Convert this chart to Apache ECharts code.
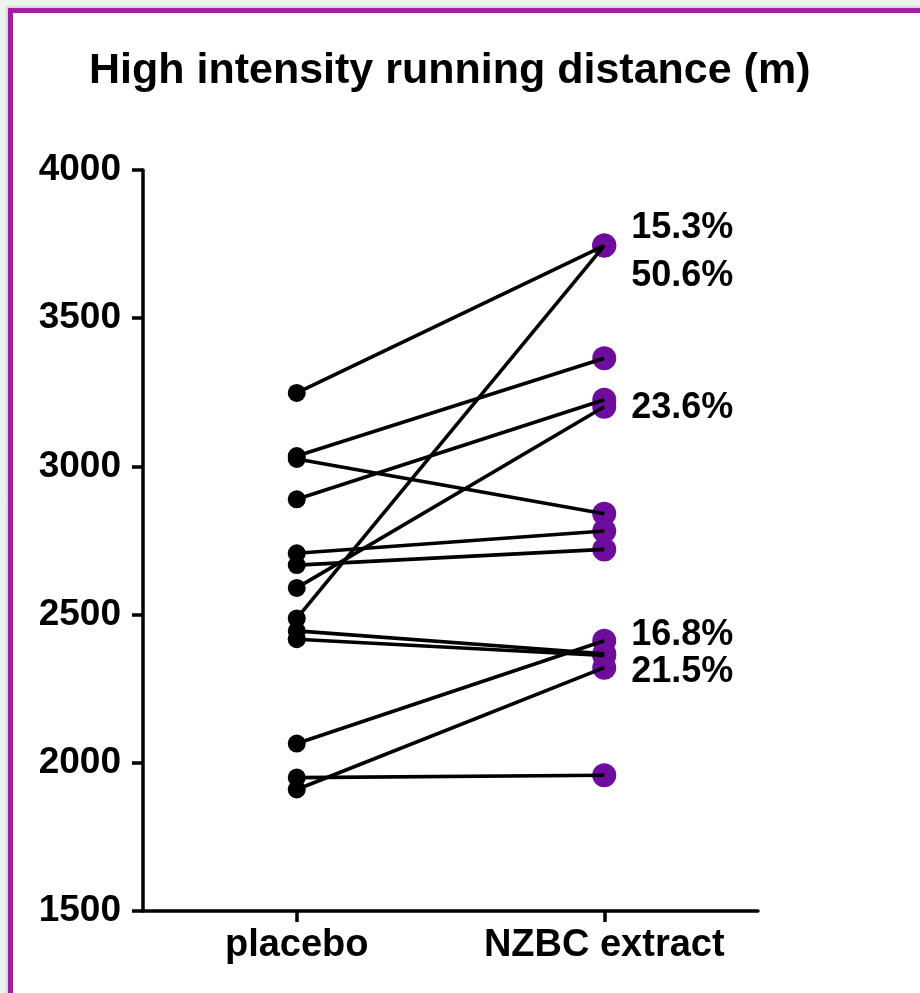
<!DOCTYPE html>
<html>
<head>
<meta charset="utf-8">
<script src="https://cdn.jsdelivr.net/npm/echarts@6/dist/echarts.min.js"></script>
<style>
  html, body { margin: 0; padding: 0; background: #eaf3ec; }
  #chart { width: 920px; height: 993px; }
</style>
</head>
<body>
<div id="chart"></div>
<script>
// Groups on the x axis
const categories = ['placebo', 'NZBC extract'];

// High intensity running distance (m) per player, paired by index
const placebo = [3248, 3035, 3025, 2889, 2707, 2667, 2590, 2487, 2445, 2417, 2065, 1950, 1910];
const nzbc    = [3745, 3365, 2840, 3225, 2782, 2720, 3201, 3745, 2368, 2362, 2412, 1958, 2321];

// Players whose percentage change is annotated
const annotated = [0, 7, 6, 10, 12];

// Y axis range and step
const yMin = 1500, yMax = 4000, yStep = 500;

const FONT = '"Liberation Sans", Arial, sans-serif';

const pct = i => ((nzbc[i] / placebo[i] - 1) * 100).toFixed(1) + '%';

// annotation label placement next to each annotated point
const labelOffsets = { 0: [27, -18], 7: [27, 30], 6: [27, 1], 10: [27, -6], 12: [27, 4] };

const pairSeries = placebo.map((p, i) => ({
  type: 'line',
  data: [p, nzbc[i]],
  symbol: 'none',
  lineStyle: { color: '#000', width: 3.6 },
  z: 3,
  silent: true,
  animation: false
}));

const chart = echarts.init(document.getElementById('chart'));
chart.setOption({
  backgroundColor: '#eaf3ec',
  animation: false,
  graphic: [
    { type: 'rect', shape: { x: 7, y: 7, width: 1000, height: 1100 },
      style: { fill: 'none', stroke: '#c4c4c4', lineWidth: 1 }, z: -2 },
    { type: 'rect', shape: { x: 10.5, y: 10.5, width: 1000, height: 1100 },
      style: { fill: '#ffffff', stroke: '#a0209e', lineWidth: 5 }, z: -1 }
  ],
  title: {
    text: 'High intensity running distance (m)',
    left: 84,
    top: 45,
    textStyle: { fontFamily: FONT, fontWeight: 'bold', fontSize: 43, color: '#000' }
  },
  grid: { left: 143, right: 162, top: 170, bottom: 82 },
  xAxis: {
    type: 'category',
    data: categories,
    boundaryGap: true,
    axisLine: { lineStyle: { color: '#000', width: 3.5 } },
    axisTick: { show: true, alignWithLabel: true, length: 11, lineStyle: { color: '#000', width: 3.5 } },
    axisLabel: { interval: 0, fontFamily: FONT, fontWeight: 'bold', fontSize: 38, color: '#000', margin: 16 },
    splitLine: { show: false }
  },
  yAxis: {
    type: 'value',
    min: yMin,
    max: yMax,
    interval: yStep,
    axisLine: { show: true, lineStyle: { color: '#000', width: 3.5 } },
    axisTick: { show: true, length: 11, lineStyle: { color: '#000', width: 3.5 } },
    axisLabel: {
      formatter: v => String(v),
      fontFamily: FONT, fontWeight: 'bold', fontSize: 37, color: '#000', margin: 22
    },
    splitLine: { show: false }
  },
  series: [
    {
      type: 'scatter',
      data: nzbc.map(v => [1, v]),
      symbol: 'circle',
      symbolSize: 24,
      itemStyle: { color: '#6e0c9e', opacity: 1 },
      z: 2,
      silent: true
    },
    ...pairSeries,
    {
      type: 'scatter',
      data: placebo.map(v => [0, v]),
      symbol: 'circle',
      symbolSize: 18,
      itemStyle: { color: '#000', opacity: 1 },
      z: 4,
      silent: true
    },
    {
      type: 'scatter',
      data: annotated.map(i => ({
        value: [1, nzbc[i]],
        label: { offset: labelOffsets[i] }
      })),
      symbolSize: 0,
      itemStyle: { opacity: 1 },
      z: 5,
      silent: true,
      label: {
        show: true,
        position: 'inside',
        align: 'left',
        verticalAlign: 'middle',
        formatter: p => pct(annotated[p.dataIndex]),
        fontFamily: FONT,
        fontWeight: 'bold',
        fontSize: 36,
        color: '#000',
        textBorderWidth: 0
      }
    }
  ]
});
</script>
</body>
</html>
